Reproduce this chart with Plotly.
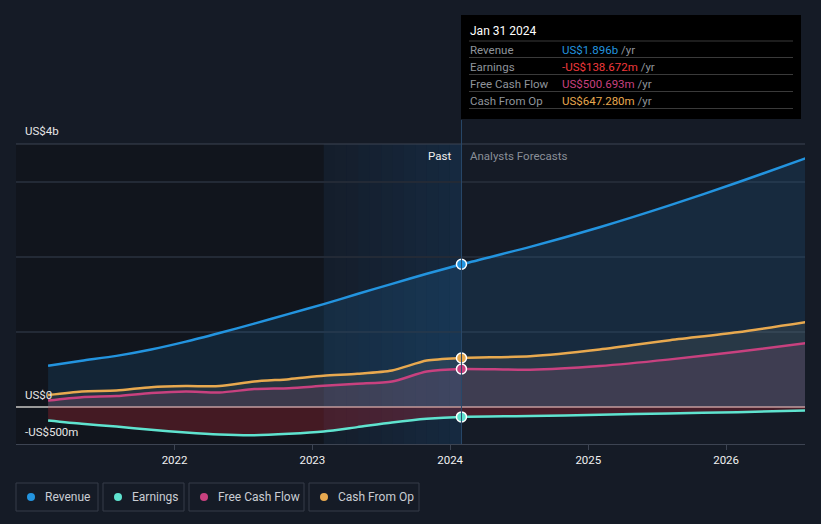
import plotly.graph_objects as go
import pandas as pd

# ---------------- data (US$ billions) ----------------
past_dates = ["2021-01-31", "2021-04-30", "2021-07-31", "2021-10-31",
              "2022-01-31", "2022-04-30", "2022-07-31", "2022-10-31",
              "2023-01-31", "2023-04-30", "2023-07-31", "2023-10-31",
              "2024-01-31"]
fc_dates = ["2024-01-31", "2024-07-31", "2025-01-31", "2025-07-31",
            "2026-01-31", "2026-07-31"]

revenue_past = [0.543, 0.61, 0.675, 0.76, 0.865, 0.98, 1.105, 1.235,
                1.365, 1.50, 1.635, 1.77, 1.896]
earnings_past = [-0.187, -0.231, -0.267, -0.311, -0.347, -0.373, -0.382,
                 -0.364, -0.333, -0.275, -0.213, -0.164, -0.1387]
fcf_past = [0.08, 0.125, 0.139, 0.179, 0.20, 0.187, 0.232, 0.245,
            0.276, 0.303, 0.333, 0.467, 0.5007]
cfo_past = [0.152, 0.20, 0.213, 0.258, 0.272, 0.272, 0.333, 0.365,
            0.409, 0.436, 0.48, 0.613, 0.6473]

revenue_fc = [1.896, 2.128, 2.39, 2.675, 2.986, 3.31]
earnings_fc = [-0.1387, -0.128, -0.109, -0.092, -0.075, -0.053]
fcf_fc = [0.5007, 0.49, 0.54, 0.625, 0.73, 0.845]
cfo_fc = [0.6473, 0.67, 0.76, 0.88, 0.99, 1.125]

series_names = ["Revenue", "Earnings", "Free Cash Flow", "Cash From Op"]
series_colors = ["#2394df", "#5fe3cf", "#c8417f", "#e8a94f"]
x_ticks = ["2022-01-01", "2023-01-01", "2024-01-01", "2025-01-01", "2026-01-01"]
x_tick_text = ["2022", "2023", "2024", "2025", "2026"]
y_labels = ["US$4b", "US$0", "-US$500m"]

tooltip_date = "Jan 31 2024"
tooltip_rows = [("Revenue", "US$1.896b", "#2394df"),
                ("Earnings", "-US$138.672m", "#f0393c"),
                ("Free Cash Flow", "US$500.693m", "#c8417f"),
                ("Cash From Op", "US$647.280m", "#e8a94f")]

# ---------------- layout geometry helpers ----------------
W, H = 821, 524
L, R, T, B = 16, 805, 144, 444


def px(xp):
    return (xp - L) / (R - L)


def py(yp):
    return (B - yp) / (B - T)


BG = "#151b26"
FONT = "Roboto"

fig = go.Figure()

B9 = 1e9
fills = {"Revenue": "rgba(35,148,223,0.13)",
         "Cash From Op": "rgba(200,190,150,0.10)",
         "Free Cash Flow": "rgba(199,90,150,0.14)",
         "Earnings": "rgba(200,40,55,0.28)"}

data_map = {
    "Revenue": (revenue_past, revenue_fc),
    "Earnings": (earnings_past, earnings_fc),
    "Free Cash Flow": (fcf_past, fcf_fc),
    "Cash From Op": (cfo_past, cfo_fc),
}
color_map = dict(zip(series_names, series_colors))

for name in ["Revenue", "Cash From Op", "Free Cash Flow", "Earnings"]:
    p, f = data_map[name]
    xs = past_dates + fc_dates[1:]
    ys = [v * B9 for v in p + f[1:]]
    fig.add_trace(go.Scatter(
        x=xs, y=ys, mode="lines", name=name,
        line=dict(color=color_map[name], width=2.5, shape="spline", smoothing=0.7),
        fill="tozeroy", fillcolor=fills[name], hoverinfo="skip", showlegend=False))

for name in series_names:
    p, f = data_map[name]
    fig.add_trace(go.Scatter(
        x=[past_dates[-1]], y=[p[-1] * B9], mode="markers",
        marker=dict(color=color_map[name], size=10, line=dict(color="white", width=1.5)),
        hoverinfo="skip", showlegend=False))

shapes = []
# darker past background
shapes.append(dict(type="rect", xref="x", yref="paper", x0="2020-11-07", x1="2023-01-31",
                   y0=0, y1=1, fillcolor="#11151d", line=dict(width=0), layer="below"))
# highlighted last-year band with gradient
band = pd.date_range("2023-01-31", "2024-01-31", periods=13)
for i in range(12):
    a = 0.05 + 0.18 * i / 11
    shapes.append(dict(type="rect", xref="x", yref="paper",
                       x0=band[i].strftime("%Y-%m-%d"), x1=band[i + 1].strftime("%Y-%m-%d"),
                       y0=0, y1=1, fillcolor=f"rgba(25,90,150,{a:.3f})",
                       line=dict(width=0), layer="below"))
# top line
shapes.append(dict(type="line", xref="paper", yref="paper", x0=0, x1=1, y0=1, y1=1,
                   line=dict(color="#3d4452", width=1)))
# vertical divider at Jan 31 2024
shapes.append(dict(type="line", xref="x", yref="paper", x0="2024-01-31", x1="2024-01-31",
                   y0=0, y1=py(120), line=dict(color="#29496a", width=1)))

# tooltip box
shapes.append(dict(type="rect", xref="paper", yref="paper", x0=px(461), x1=px(801),
                   y0=py(119), y1=py(15), fillcolor="#000000", line=dict(width=0)))
for ly in [41, 57.5, 74.5, 91.5, 108.5]:
    shapes.append(dict(type="line", xref="paper", yref="paper", x0=px(469), x1=px(793),
                       y0=py(ly), y1=py(ly), line=dict(color="#3a3a3a", width=1)))

annotations = []
annotations.append(dict(xref="paper", yref="paper", x=px(468), y=py(31), text=tooltip_date,
                        showarrow=False, xanchor="left", yanchor="middle",
                        font=dict(family=FONT, size=12, color="#ffffff")))
for i, (lab, val, col) in enumerate(tooltip_rows):
    yy = py(49.5 + i * 17)
    annotations.append(dict(xref="paper", yref="paper", x=px(468), y=yy, text=lab,
                            showarrow=False, xanchor="left", yanchor="middle",
                            font=dict(family=FONT, size=11.5, color="#8f949b")))
    annotations.append(dict(xref="paper", yref="paper", x=px(560), y=yy,
                            text=f"<span style='color:{col}'>{val}</span> /yr",
                            showarrow=False, xanchor="left", yanchor="middle",
                            font=dict(family=FONT, size=11.5, color="#8f949b")))

# y labels
for lab, yp in zip(y_labels, [131, 395, 432]):
    annotations.append(dict(xref="paper", yref="paper", x=px(23), y=py(yp), text=lab,
                            showarrow=False, xanchor="left", yanchor="middle",
                            font=dict(family=FONT, size=11.5, color="#e6e6e6")))

# Past / Analysts Forecasts
annotations.append(dict(xref="paper", yref="paper", x=px(453), y=py(156), text="Past",
                        showarrow=False, xanchor="right", yanchor="middle",
                        font=dict(family=FONT, size=11.5, color="#f0f0f0")))
annotations.append(dict(xref="paper", yref="paper", x=px(468), y=py(156),
                        text="Analysts Forecasts", showarrow=False, xanchor="left",
                        yanchor="middle", font=dict(family=FONT, size=11.5, color="#8a8f98")))

# custom legend
boxes = [(16, 98), (103, 184), (189, 304), (309, 419)]
for (x0, x1), name, col in zip(boxes, series_names, series_colors):
    shapes.append(dict(type="rect", xref="paper", yref="paper", x0=px(x0), x1=px(x1),
                       y0=py(511), y1=py(483), line=dict(color="#363c48", width=1),
                       fillcolor="rgba(0,0,0,0)"))
    cx = x0 + 15
    shapes.append(dict(type="circle", xref="paper", yref="paper",
                       x0=px(cx - 4), x1=px(cx + 4), y0=py(501), y1=py(493),
                       fillcolor=col, line=dict(width=0)))
    annotations.append(dict(xref="paper", yref="paper", x=px(x0 + 27), y=py(497),
                            text=name, showarrow=False, xanchor="left", yanchor="middle",
                            font=dict(family=FONT, size=12, color="#c9cdd3")))

fig.update_layout(
    width=W, height=H,
    margin=dict(l=L, r=W - R, t=T, b=H - B),
    paper_bgcolor=BG, plot_bgcolor=BG,
    showlegend=False,
    shapes=shapes, annotations=annotations,
    font=dict(family=FONT),
    xaxis=dict(type="date", range=["2020-11-07", "2026-07-29"],
               tickvals=x_ticks, ticktext=x_tick_text,
               showgrid=False, zeroline=False,
               showline=True, linecolor="#3d4452", linewidth=1,
               ticks="outside", ticklen=5, tickcolor="#3d4452",
               tickfont=dict(family=FONT, size=11.5, color="#f0f0f0"), fixedrange=True),
    yaxis=dict(range=[-0.5 * B9, 3.5 * B9], tickvals=[0, 1 * B9, 2 * B9, 3 * B9],
               showticklabels=False, showgrid=True, gridcolor="#232a36", gridwidth=1.5,
               zeroline=True, zerolinecolor="#9a9a9a", zerolinewidth=1.5,
               fixedrange=True),
)

fig.write_html(
    "out.html",
    config={"displayModeBar": False},
    post_script="document.body.style.margin='0';document.body.style.background='#151b26';",
)
